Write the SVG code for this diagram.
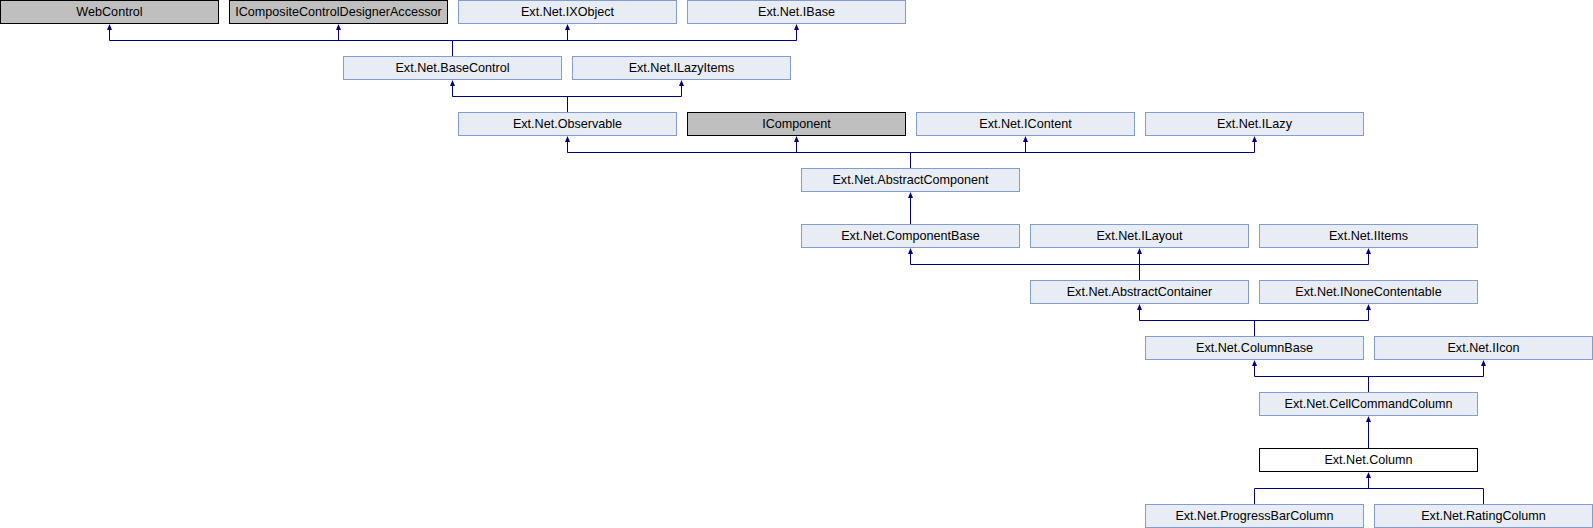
<svg xmlns="http://www.w3.org/2000/svg" width="1593" height="528" viewBox="0 0 1593 528">
<style>
.n rect{fill:#E8ECF5;stroke:#849CCC;stroke-width:1}
.g rect{fill:#BFBFBF;stroke:#000;stroke-width:1}
.w rect{fill:#FFFFFF;stroke:#000;stroke-width:1}
text{font-family:"Liberation Sans",Arial,sans-serif;font-size:12.6px;fill:#000;text-anchor:middle}
.e path{fill:none;stroke:#000080;stroke-width:1}
.e use{fill:#000080}
</style>
<defs>
<path id="arr" d="M0.5,0 L3,6 L-2,6 Z"/>
</defs>
<rect x="0" y="0" width="1593" height="528" fill="#FFFFFF"/>
<g class="e" id="connectors">
<path d="M109.5,30V40.5H796.5V30M338.5,30V40.5M567.5,30V40.5M452.5,40.5V56"/>
<path d="M452.5,86V96.5H681.5V86M567.5,96.5V112"/>
<path d="M567.5,142V152.5H1254.5V142M796.5,142V152.5M1025.5,142V152.5M910.5,152.5V168"/>
<path d="M910.5,198V224"/>
<path d="M910.5,254V264.5H1368.5V254M1139.5,254V280"/>
<path d="M1139.5,310V320.5H1368.5V310M1254.5,320.5V336"/>
<path d="M1254.5,366V376.5H1483.5V366M1368.5,376.5V392"/>
<path d="M1368.5,422V448"/>
<path d="M1368.5,478V488.5M1254.5,504V488.5H1483.5V504"/>
<use href="#arr" x="109" y="24"/>
<use href="#arr" x="338" y="24"/>
<use href="#arr" x="567" y="24"/>
<use href="#arr" x="796" y="24"/>
<use href="#arr" x="452" y="80"/>
<use href="#arr" x="681" y="80"/>
<use href="#arr" x="567" y="136"/>
<use href="#arr" x="796" y="136"/>
<use href="#arr" x="1025" y="136"/>
<use href="#arr" x="1254" y="136"/>
<use href="#arr" x="910" y="192"/>
<use href="#arr" x="910" y="248"/>
<use href="#arr" x="1139" y="248"/>
<use href="#arr" x="1368" y="248"/>
<use href="#arr" x="1139" y="304"/>
<use href="#arr" x="1368" y="304"/>
<use href="#arr" x="1254" y="360"/>
<use href="#arr" x="1483" y="360"/>
<use href="#arr" x="1368" y="416"/>
<use href="#arr" x="1368" y="472"/>
</g>
<g id="WebControl" class="g"><rect x="0.5" y="0.5" width="218" height="23"/><text x="109.5" y="16">WebControl</text></g>
<g id="ICompositeControlDesignerAccessor" class="g"><rect x="229.5" y="0.5" width="218" height="23"/><text x="338.5" y="16">ICompositeControlDesignerAccessor</text></g>
<g id="IXObject" class="n"><rect x="458.5" y="0.5" width="218" height="23"/><text x="567.5" y="16">Ext.Net.IXObject</text></g>
<g id="IBase" class="n"><rect x="687.5" y="0.5" width="218" height="23"/><text x="796.5" y="16">Ext.Net.IBase</text></g>
<g id="BaseControl" class="n"><rect x="343.5" y="56.5" width="218" height="23"/><text x="452.5" y="72">Ext.Net.BaseControl</text></g>
<g id="ILazyItems" class="n"><rect x="572.5" y="56.5" width="218" height="23"/><text x="681.5" y="72">Ext.Net.ILazyItems</text></g>
<g id="Observable" class="n"><rect x="458.5" y="112.5" width="218" height="23"/><text x="567.5" y="128">Ext.Net.Observable</text></g>
<g id="IComponent" class="g"><rect x="687.5" y="112.5" width="218" height="23"/><text x="796.5" y="128">IComponent</text></g>
<g id="IContent" class="n"><rect x="916.5" y="112.5" width="218" height="23"/><text x="1025.5" y="128">Ext.Net.IContent</text></g>
<g id="ILazy" class="n"><rect x="1145.5" y="112.5" width="218" height="23"/><text x="1254.5" y="128">Ext.Net.ILazy</text></g>
<g id="AbstractComponent" class="n"><rect x="801.5" y="168.5" width="218" height="23"/><text x="910.5" y="184">Ext.Net.AbstractComponent</text></g>
<g id="ComponentBase" class="n"><rect x="801.5" y="224.5" width="218" height="23"/><text x="910.5" y="240">Ext.Net.ComponentBase</text></g>
<g id="ILayout" class="n"><rect x="1030.5" y="224.5" width="218" height="23"/><text x="1139.5" y="240">Ext.Net.ILayout</text></g>
<g id="IItems" class="n"><rect x="1259.5" y="224.5" width="218" height="23"/><text x="1368.5" y="240">Ext.Net.IItems</text></g>
<g id="AbstractContainer" class="n"><rect x="1030.5" y="280.5" width="218" height="23"/><text x="1139.5" y="296">Ext.Net.AbstractContainer</text></g>
<g id="INoneContentable" class="n"><rect x="1259.5" y="280.5" width="218" height="23"/><text x="1368.5" y="296">Ext.Net.INoneContentable</text></g>
<g id="ColumnBase" class="n"><rect x="1145.5" y="336.5" width="218" height="23"/><text x="1254.5" y="352">Ext.Net.ColumnBase</text></g>
<g id="IIcon" class="n"><rect x="1374.5" y="336.5" width="218" height="23"/><text x="1483.5" y="352">Ext.Net.IIcon</text></g>
<g id="CellCommandColumn" class="n"><rect x="1259.5" y="392.5" width="218" height="23"/><text x="1368.5" y="408">Ext.Net.CellCommandColumn</text></g>
<g id="Column" class="w"><rect x="1259.5" y="448.5" width="218" height="23"/><text x="1368.5" y="464">Ext.Net.Column</text></g>
<g id="ProgressBarColumn" class="n"><rect x="1145.5" y="504.5" width="218" height="23"/><text x="1254.5" y="520">Ext.Net.ProgressBarColumn</text></g>
<g id="RatingColumn" class="n"><rect x="1374.5" y="504.5" width="218" height="23"/><text x="1483.5" y="520">Ext.Net.RatingColumn</text></g>
</svg>
